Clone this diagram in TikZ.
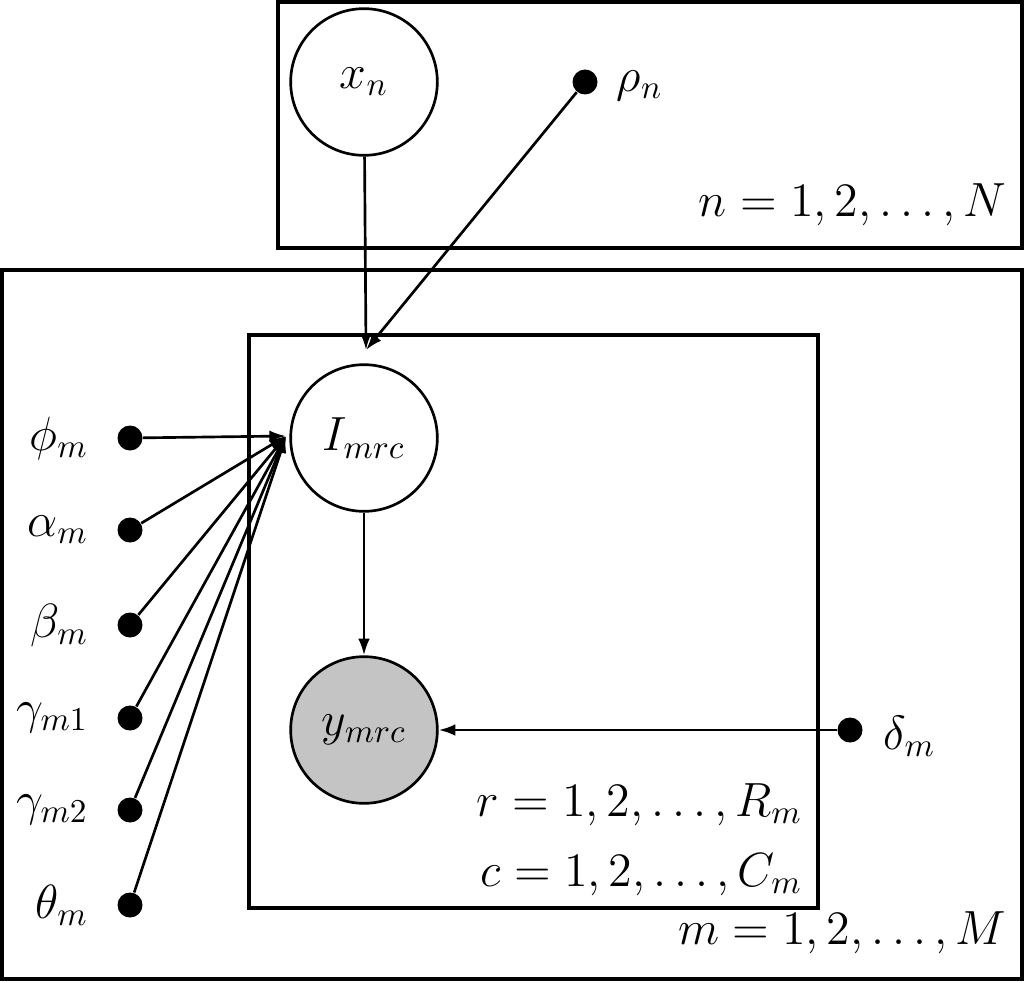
\documentclass[tikz,border=0pt]{standalone}
\usetikzlibrary{arrows.meta}
\begin{document}
\begin{tikzpicture}[x=0.3pt,y=-0.3pt,
  box/.style={draw,line width=1pt},
  var/.style={circle,draw,line width=0.8pt,minimum size=44pt,inner sep=0pt,font=\Large},
  dot/.style={circle,fill=black,minimum size=7.5pt,inner sep=0pt},
  lab/.style={font=\Large},
  arr/.style={-{Latex[length=5pt,width=3.5pt]},line width=0.8pt}]
\useasboundingbox (0,0) rectangle (1025,982);
\draw[box] (278,2) rectangle (1022,248);
\draw[box] (2,270) rectangle (1022,979);
\draw[box] (249,335) rectangle (818,908);
\node[var] (x) at (364,82) {$x_n$};
\node[var] (I) at (364,438) {$I_{mrc}$};
\node[var,fill=black!23] (y) at (364,730) {$y_{mrc}$};
\node[dot] (rho) at (585,82) {};
\node[lab,anchor=west] at (605,86) {$\rho_n$};
\node[dot] (delta) at (850,730) {};
\node[lab,anchor=west] at (872,736) {$\delta_m$};
\coordinate (Itop) at (366,350);
\coordinate (Ileft) at (286,436);
\draw[arr] (x) -- (Itop);
\draw[arr] (rho) -- (Itop);
\draw[arr] (I) -- (y);
\draw[arr] (delta) -- (y);
\foreach \n/\yy/\t in {phi/438/\phi_m,alpha/530/\alpha_m,beta/625/\beta_m,g1/718/\gamma_{m1},g2/810/\gamma_{m2},theta/905/\theta_m}{
  \node[dot] (\n) at (130,\yy) {};
  \node[lab,anchor=east] at (100,\yy) {$\t$};
  \draw[arr] (\n) -- (Ileft);
}
\node[lab,anchor=south east] at (1018,238) {$n=1,2,\ldots,N$};
\node[lab,anchor=south east] at (1018,966) {$m=1,2,\ldots,M$};
\node[lab,anchor=east] at (814,805) {$r=1,2,\ldots,R_m$};
\node[lab,anchor=east] at (814,875) {$c=1,2,\ldots,C_m$};
\end{tikzpicture}
\end{document}
